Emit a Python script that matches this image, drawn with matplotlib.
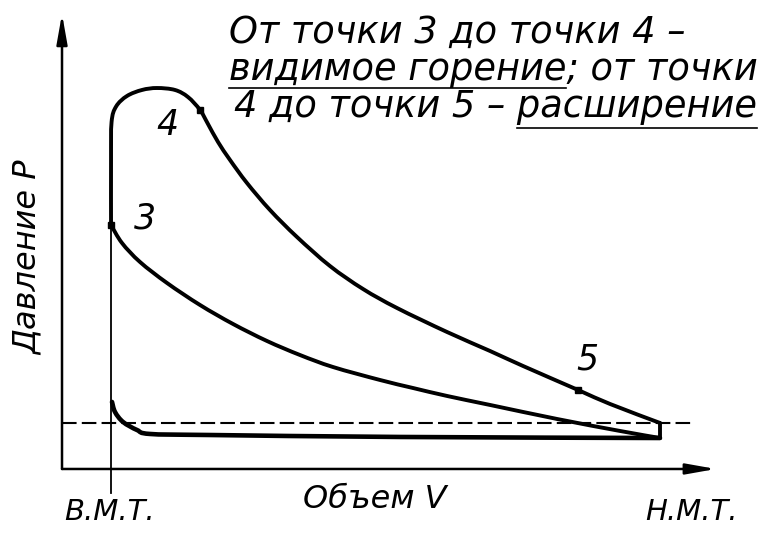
import matplotlib
matplotlib.use("Agg")
import numpy as np
import matplotlib.pyplot as plt
from matplotlib.path import Path
from matplotlib.patches import PathPatch

# индикаторная диаграмма, V и P в условных единицах
comb_v = [7.52, 7.52, 7.60, 8.30, 9.97, 12.27, 14.57, 17.33, 19.32, 21.17]
comb_p = [37.42, 47.39, 53.20, 55.60, 57.21, 58.13, 58.43, 58.13, 57.05, 55.06]
exp_v = [21.17, 22.39, 23.93, 25.77, 28.37, 31.90, 36.04, 41.10, 46.16, 51.38, 59.05, 65.64, 70.70, 79.14, 84.05, 91.71]
exp_p = [55.06, 52.91, 50.15, 47.39, 43.86, 39.72, 35.58, 31.13, 27.61, 24.69, 21.01, 18.10, 15.80, 12.12, 9.97, 7.06]
comp_v = [7.52, 9.20, 11.96, 16.10, 21.17, 26.23, 31.44, 36.50, 41.56, 48.77, 53.83, 59.05, 65.64, 75.92, 85.58, 91.71]
comp_p = [37.42, 34.66, 31.75, 28.53, 25.15, 22.24, 19.63, 17.48, 15.64, 13.65, 12.42, 11.20, 9.82, 7.67, 5.83, 4.75]
drop_v = [91.71, 91.71]
drop_p = [7.06, 4.75]
exh_v = [91.71, 51.84, 22.70, 13.50, 11.50, 9.36, 8.13, 7.67]
exh_p = [4.75, 4.91, 5.21, 5.37, 5.98, 7.21, 8.74, 10.28]

pt_labels = ["3", "4", "5"]
pt_v = [7.52, 21.17, 79.14]
pt_p = [37.42, 55.06, 12.12]

v_bmt = 7.52
v_nmt = 96.5
p_atm = 7.06
v_max = 100.3
p_max = 69.8

note_lines = ["От точки 3 до точки 4 –", "видимое горение; от точки", "4 до точки 5 – расширение"]
note_under = [None, "видимое горение", "расширение"]

FONT = dict(family="DejaVu Sans", style="italic", color="black")


def smooth_path(xs, ys):
    # кривая Безье через точки (Catmull-Rom)
    pts = np.column_stack([xs, ys]).astype(float)
    verts = [pts[0]]
    codes = [Path.MOVETO]
    n = len(pts)
    for i in range(n - 1):
        p0 = pts[i - 1] if i > 0 else pts[i]
        p1, p2 = pts[i], pts[i + 1]
        p3 = pts[i + 2] if i + 2 < n else pts[i + 1]
        c1 = p1 + (p2 - p0) / 6.0
        c2 = p2 - (p3 - p1) / 6.0
        verts += [c1, c2, p2]
        codes += [Path.CURVE4] * 3
    return Path(verts, codes)


fig = plt.figure(figsize=(7.68, 5.33), dpi=100)
ax = fig.add_axes([0, 0, 1, 1])
ax.set_xlim(-9.51, 108.28)
ax.set_ylim(-9.82, 71.93)
ax.axis("off")

# оси
arrow = dict(arrowstyle="-|>,head_length=0.9,head_width=0.16", lw=1.8, color="black",
             shrinkA=0, shrinkB=0, mutation_scale=20)
ax.annotate("", xy=(0, p_max), xytext=(0, 0), arrowprops=arrow)
ax.annotate("", xy=(v_max, 0), xytext=(0, 0), arrowprops=arrow)

# линия атмосферного давления
ax.plot([0, v_nmt], [p_atm, p_atm], color="black", lw=1.5, ls=(0, (7, 2.5)))

# в.м.т.
ax.plot([v_bmt, v_bmt], [-3.7, pt_p[0]], color="black", lw=1.3)

# горение + расширение одной линией, сжатие, выпуск
curves = [(comb_v + exp_v[1:], comb_p + exp_p[1:], 2.8), (comp_v, comp_p, 2.8), (exh_v, exh_p, 3.3)]
for xs, ys, lw in curves:
    ax.add_patch(PathPatch(smooth_path(xs, ys), fill=False, lw=lw, color="black",
                           capstyle="round", joinstyle="round"))
ax.plot(drop_v, drop_p, color="black", lw=2.8, solid_capstyle="round")

ax.plot(pt_v, pt_p, "s", color="black", ms=4.5)
offsets = [(34, 7), (-33, -15), (9, 30)]
for lab, v, p, off in zip(pt_labels, pt_v, pt_p, offsets):
    ax.annotate(lab, (v, p), xytext=off, textcoords="offset pixels", ha="center", va="center",
                fontsize=25, **FONT)

ax.text(-5.2, 32.4, "Давление P", rotation=90, ha="center", va="center", fontsize=23, **FONT)
ax.text(48.0, -4.75, "Объем V", ha="center", va="center", fontsize=23, **FONT)
ax.text(v_bmt - 0.2, -6.6, "В.М.Т.", ha="center", va="center", fontsize=21, **FONT)
ax.text(v_nmt, -6.6, "Н.М.Т.", ha="center", va="center", fontsize=21, **FONT)

# пояснение
note_x = [25.61, 25.61, 26.38]
note_y = [65.34, 59.66, 53.99]
under_gap = [0, 8, 11]
note_fs = 26.5
texts = []
for s, x, y in zip(note_lines, note_x, note_y):
    texts.append(ax.text(x, y, s, ha="left", va="baseline", fontsize=note_fs, **FONT))

fig.canvas.draw()
r = fig.canvas.get_renderer()
inv = ax.transData.inverted()
for t, s, u, gap in zip(texts, note_lines, note_under, under_gap):
    if not u:
        continue
    bb = t.get_window_extent(r)
    tmp = ax.text(0, 0, u, fontsize=note_fs, **FONT)
    w = tmp.get_window_extent(r).width
    tmp.remove()
    if s.startswith(u):
        x0, x1 = bb.x0, bb.x0 + w
    else:
        x0, x1 = bb.x1 - w, bb.x1
    base = ax.transData.transform((0, t.get_position()[1]))[1] - gap
    (a0, yy), (a1, _) = inv.transform([(x0, base), (x1, base)])
    ax.plot([a0, a1], [yy, yy], color="black", lw=1.2)

fig.savefig("out.png", dpi=100, facecolor="white")
